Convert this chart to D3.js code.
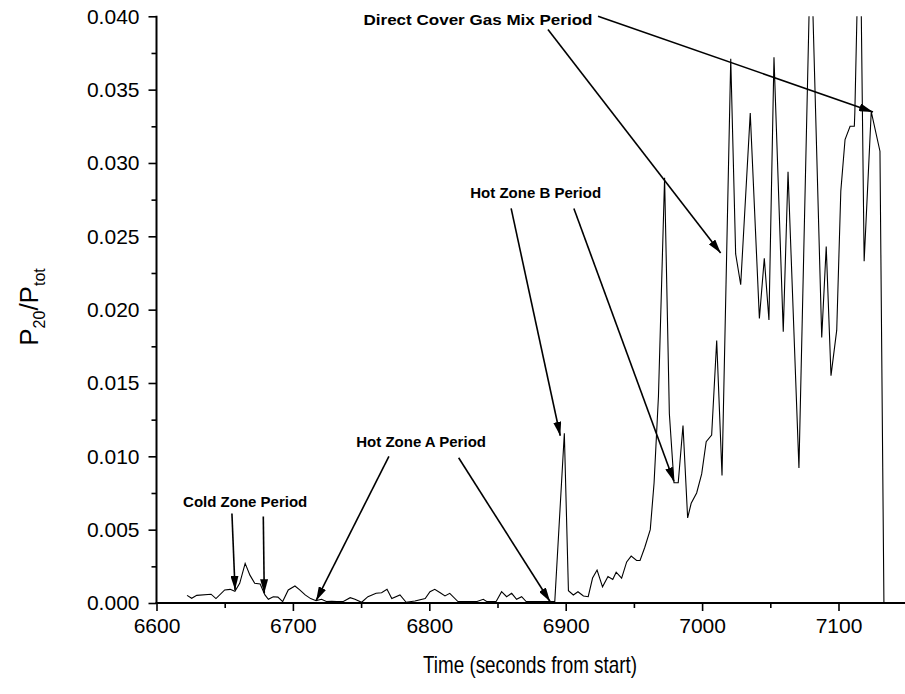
<!DOCTYPE html>
<html><head><meta charset="utf-8">
<script src="https://cdn.jsdelivr.net/npm/d3@7"></script>
<style>
body{margin:0;background:#fff;}
text{font-family:"Liberation Sans",Arial,sans-serif;}
</style></head><body>
<svg id="c" width="905" height="694"></svg>
<script>
const times = [6622.4,6625.8,6629.5,6640,6643.6,6650,6654,6657.5,6661,6665,6668.5,6672,6676,6679.5,6682,6685.6,6689,6692.5,6696.6,6701.5,6705,6709,6713,6717,6721,6724.5,6728.5,6732,6737,6742,6745.5,6750.4,6755,6761,6765,6769,6772.5,6778.5,6783,6789.5,6797,6800.5,6804,6808,6811.5,6815,6821,6826,6831,6835,6839.6,6842,6849,6853,6856.7,6860.4,6864,6867.7,6871,6876,6881,6887,6892,6899,6902,6905.6,6909,6913,6916.5,6919.7,6923,6927,6931,6934.5,6937,6941,6944.7,6948,6952,6954.5,6958,6962,6964.8,6968,6972.5,6976,6979.4,6982.5,6986,6989.4,6992,6996,6999.7,7003,7007,7010.7,7014.6,7021,7024.6,7028.3,7035.3,7042,7045.6,7049,7052.7,7059.5,7063,7071,7079.7,7087.7,7091,7094.5,7098.7,7101.7,7104.8,7108.5,7111.6,7112,7115.6,7118.8,7124,7130.4,7133.3];
const ratios = [0.00052,0.00032,0.00052,0.0006,0.0003,0.00089,0.00093,0.0008,0.00134,0.0027,0.0019,0.00134,0.0013,0.00055,0.00025,0.00043,0.0004,0.0001,0.00089,0.00116,0.0009,0.00055,0.0003,0.00016,0.00025,0.0001,0.00012,0.0001,0.0001,0.00036,0.00025,0.00005,0.00043,0.00066,0.0007,0.00093,0.0003,0.00055,0.00005,0.00014,0.0003,0.00077,0.00093,0.0007,0.00048,0.00066,0.0001,0.0001,0.0001,0.0001,0.00025,0.0001,0.0001,0.00077,0.00043,0.00066,0.00025,0.00043,0.0001,0.0001,0.0001,0.0001,0.0001,0.01157,0.00084,0.00055,0.00077,0.00048,0.00043,0.0017,0.00225,0.0011,0.0018,0.0016,0.0021,0.0017,0.0028,0.0032,0.0029,0.0029,0.0038,0.005,0.0082,0.0141,0.029,0.0129,0.0082,0.0082,0.0121,0.0058,0.0068,0.0075,0.0088,0.011,0.01145,0.0179,0.0087,0.0371,0.0238,0.0217,0.0334,0.0194,0.0235,0.0193,0.0372,0.0185,0.0294,0.0092,0.0455,0.0181,0.0243,0.0155,0.0186,0.0281,0.0316,0.0325,0.0325,0.0335,0.049,0.0233,0.0335,0.0308,0.0];
const xMajorTicks = [6600,6700,6800,6900,7000,7100];
const xMinorTicks = [6650,6750,6850,6950,7050,7150];
const yMajorTicks = [0,0.005,0.010,0.015,0.020,0.025,0.030,0.035,0.040];
const yMinorTicks = [0.0025,0.0075,0.0125,0.0175,0.0225,0.0275,0.0325,0.0375];
const annLabels = ["Direct Cover Gas Mix Period","Hot Zone B Period","Hot Zone A Period","Cold Zone Period"];
const annLabelPos = [[6835.7,0.0397],[6878,0.0279],[6794,0.0109],[6665,0.0068]];
const annLabelLen = [229,null,null,null];
// arrows: [label index, startT, startV, endT, endV]
const annArrows = [
  [0,6923.7,0.0400,7125.3,0.03348],
  [0,6887,0.0391,7013.6,0.02386],
  [1,6860,0.0269,6896,0.0114],
  [1,6906,0.0269,6979.3,0.0083],
  [2,6770.4,0.0100,6717,0.00016],
  [2,6821.5,0.0099,6888.5,0.0001],
  [3,6655.3,0.0061,6657.6,0.00089],
  [3,6678.3,0.0059,6679,0.00066]
];

const svg = d3.select("#c");
const x = d3.scaleLinear().domain([6600,7150]).range([156.5,906.7]);
const y = d3.scaleLinear().domain([0,0.04]).range([603,16.3]);

const defs = svg.append("defs");
defs.append("clipPath").attr("id","clip").append("rect")
  .attr("x",x.range()[0]).attr("y",y(0.04)).attr("width",x.range()[1]-x.range()[0]).attr("height",y(0)-y(0.04));
defs.append("marker").attr("id","ah").attr("viewBox","0 0 14 8").attr("refX",14).attr("refY",4)
  .attr("markerWidth",14).attr("markerHeight",8).attr("markerUnits","userSpaceOnUse").attr("orient","auto")
  .append("path").attr("d","M0,0 L14,4 L0,8 Z").attr("fill","#000");

// data line
const data = times.map((t,i)=>[t,ratios[i]]);
svg.append("path").datum(data).attr("clip-path","url(#clip)")
  .attr("fill","none").attr("stroke","#000").attr("stroke-width",1.1)
  .attr("d",d3.line().x(d=>x(d[0])).y(d=>y(d[1])));

// axes
const fs = 21;
const gx = svg.append("g").attr("transform",`translate(0,${y(0)})`);
gx.call(d3.axisBottom(x).tickValues(xMajorTicks).tickSize(8).tickPadding(7).tickFormat(d3.format("d")));
gx.append("g").call(d3.axisBottom(x).tickValues(xMinorTicks).tickSize(5).tickFormat(""));
const gy = svg.append("g").attr("transform",`translate(${x(6600)},0)`);
gy.call(d3.axisLeft(y).tickValues(yMajorTicks).tickSize(8).tickPadding(9).tickFormat(d3.format(".3f")));
gy.append("g").call(d3.axisLeft(y).tickValues(yMinorTicks).tickSize(5).tickFormat(""));
svg.selectAll(".domain").remove();
svg.selectAll(".tick line").attr("stroke","#000").attr("stroke-width",1.6);
svg.selectAll(".tick text").attr("font-size",fs).attr("fill","#000").attr("font-family","'Liberation Sans',Arial,sans-serif");
svg.append("line").attr("x1",x(6600)).attr("x2",x(6600)).attr("y1",y(0.04)-0.5).attr("y2",y(0)+1).attr("stroke","#000").attr("stroke-width",2);
svg.append("line").attr("x1",x(6600)-1).attr("x2",x.range()[1]).attr("y1",y(0)).attr("y2",y(0)).attr("stroke","#000").attr("stroke-width",2);

// axis titles
svg.append("text").attr("x",530).attr("y",673).attr("text-anchor","middle").attr("font-size",24)
  .attr("textLength",214).attr("lengthAdjust","spacingAndGlyphs")
  .text("Time (seconds from start)");
const yt = svg.append("text").attr("transform","translate(38,307) rotate(-90)").attr("text-anchor","middle").attr("font-size",26);
yt.append("tspan").text("P");
yt.append("tspan").attr("font-size",16).attr("dy",7).text("20");
yt.append("tspan").attr("dy",-7).text("/P");
yt.append("tspan").attr("font-size",16).attr("dy",7).text("tot");

// annotations
annLabels.forEach((s,i)=>{
  const t = svg.append("text").attr("x",x(annLabelPos[i][0])).attr("y",y(annLabelPos[i][1]))
    .attr("text-anchor","middle").attr("dominant-baseline","middle")
    .attr("font-size",15).attr("font-weight","bold").text(s);
  if (annLabelLen[i]) t.attr("textLength",annLabelLen[i]).attr("lengthAdjust","spacingAndGlyphs");
});
annArrows.forEach(a=>{
  svg.append("line").attr("x1",x(a[1])).attr("y1",y(a[2])).attr("x2",x(a[3])).attr("y2",y(a[4]))
    .attr("stroke","#000").attr("stroke-width",1.6).attr("marker-end","url(#ah)");
});
</script></body></html>
